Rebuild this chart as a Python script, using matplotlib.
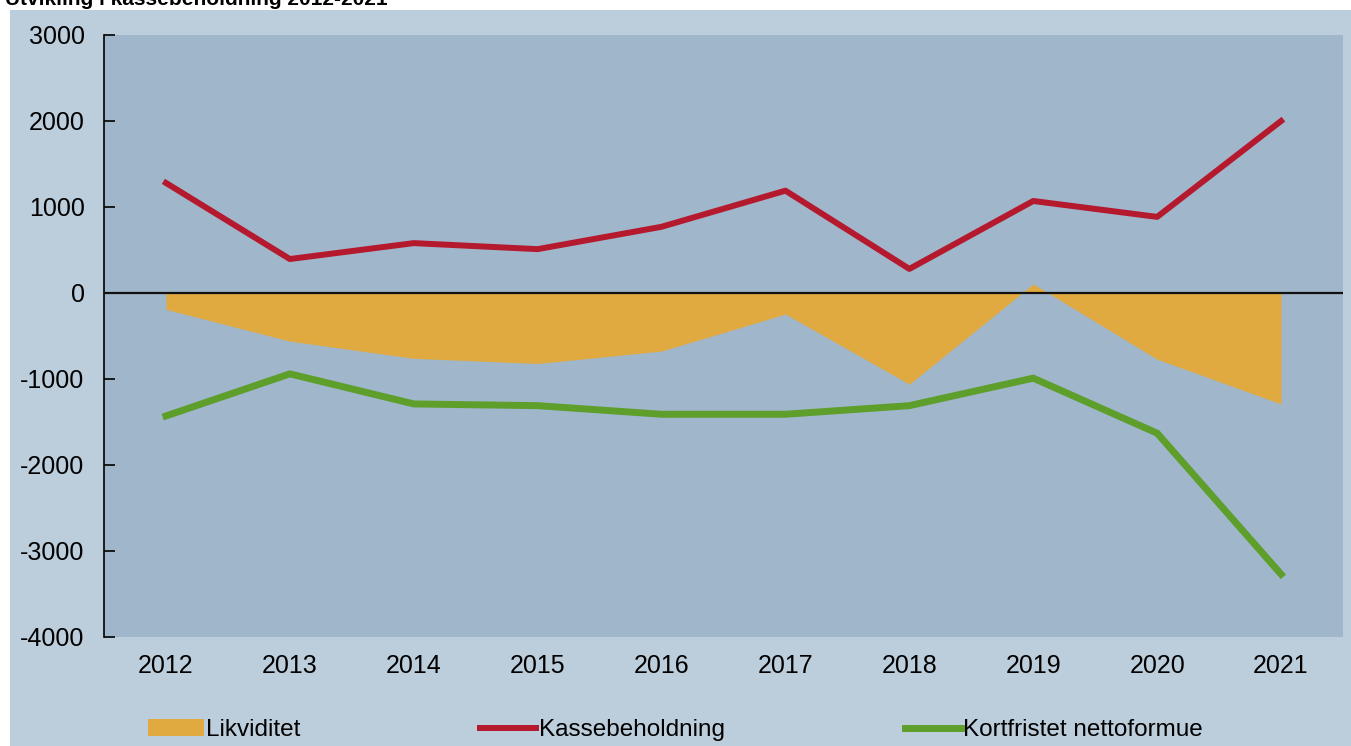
import matplotlib.pyplot as plt
import numpy as np
from matplotlib.patches import Rectangle

plt.rcParams['font.family'] = ['Liberation Sans', 'DejaVu Sans']
plt.rcParams['axes.unicode_minus'] = False

years = ['2012', '2013', '2014', '2015', '2016', '2017', '2018', '2019', '2020', '2021']
likviditet = [-190, -560, -760, -820, -675, -245, -1060, 105, -770, -1290]
kassebeholdning = [1280, 395, 580, 510, 770, 1190, 280, 1070, 885, 2000]
kortfristet = [-1430, -940, -1290, -1310, -1410, -1410, -1310, -990, -1630, -3270]

W, H = 1351, 746
fig = plt.figure(figsize=(W / 100, H / 100), dpi=100, facecolor='white')
# outer light-blue panel
fig.patches.append(Rectangle((10 / W, 0), 1 - 10 / W, 1 - 10 / H, transform=fig.transFigure,
                             facecolor='#BCCDDB', edgecolor='none', zorder=-10))
# title, partly cut off at the top
fig.text(5 / W, 1 - 5 / H, 'Utvikling i kassebeholdning 2012-2021', fontsize=15,
         fontweight='bold', va='baseline', ha='left')

ax = fig.add_axes([104 / W, (H - 637) / H, (1343 - 104) / W, (637 - 35) / H])
ax.set_facecolor('#A0B6CA')

x = np.arange(len(years))
ax.fill_between(x, 0, likviditet, color='#E0AA40', linewidth=0, label='Likviditet', zorder=2)
ax.plot(x, kassebeholdning, color='#B5192E', linewidth=4.3, label='Kassebeholdning', zorder=3)
ax.plot(x, kortfristet, color='#5E9E2A', linewidth=5, label='Kortfristet nettoformue', zorder=3)

ax.set_xlim(-0.5, 9.5)
ax.set_ylim(-4000, 3000)
ax.set_yticks(np.arange(-4000, 3001, 1000))
ax.tick_params(axis='y', direction='in', length=8, width=1.2, labelsize=18, pad=14)

ax.set_xticks(x)
ax.set_xticklabels(years)
ax.tick_params(axis='x', length=0, labelsize=18, pad=12)

for s in ['top', 'right', 'bottom']:
    ax.spines[s].set_visible(False)
ax.spines['left'].set_linewidth(1.2)

# zero line with category boundary ticks
ax.axhline(0, color='#111111', linewidth=1.6, zorder=4)
sec = ax.secondary_xaxis(4 / 7)
sec.set_xticks(np.arange(0.5, 9.5, 1))
sec.set_xticklabels([])
sec.tick_params(direction='in', length=8, width=1.2)
sec.spines['bottom'].set_visible(False)
sec.spines['top'].set_visible(False)

fig.legend(loc='center left', bbox_to_anchor=(126 / W, 16 / H), ncol=3, frameon=False,
           fontsize=17.5, handlelength=2.3, handletextpad=0.1, columnspacing=7.4)

plt.savefig('out.png', dpi=100, facecolor=fig.get_facecolor())
